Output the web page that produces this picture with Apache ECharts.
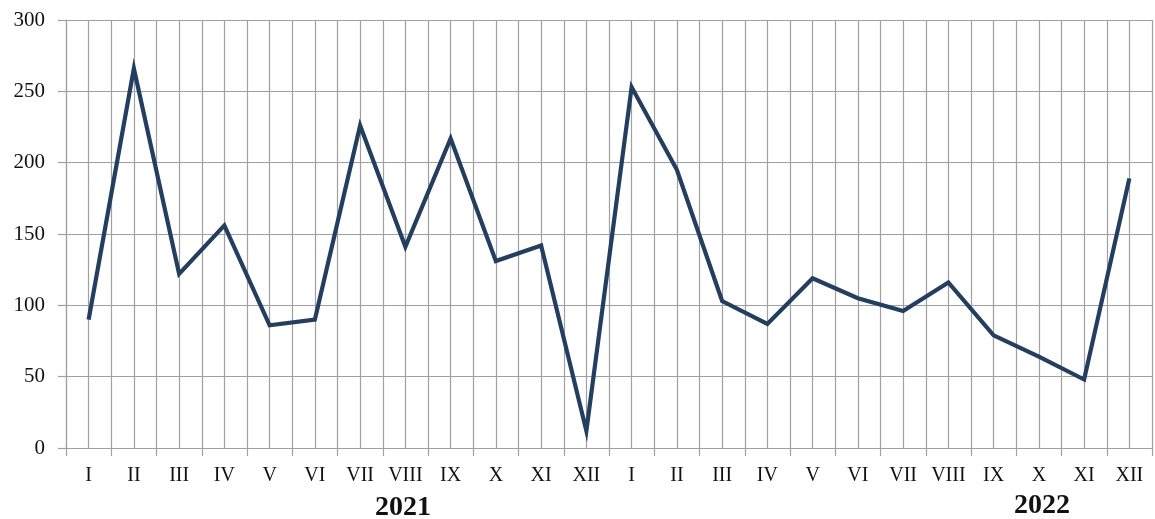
<!DOCTYPE html>
<html>
<head>
<meta charset="utf-8">
<script src="https://cdn.jsdelivr.net/npm/echarts@6/dist/echarts.min.js"></script>
<style>
  html, body { margin: 0; padding: 0; background: #fff; }
  #chart { width: 1155px; height: 519px; }
</style>
</head>
<body>
<div id="chart"></div>
<script>
// months of 2021 and 2022
var months = ['I', 'II', 'III', 'IV', 'V', 'VI', 'VII', 'VIII', 'IX', 'X', 'XI', 'XII',
              'I', 'II', 'III', 'IV', 'V', 'VI', 'VII', 'VIII', 'IX', 'X', 'XI', 'XII'];
var values = [90, 266, 122, 156, 86, 90, 226, 141, 217, 131, 142, 12,
              253, 195, 103, 87, 119, 105, 96, 116, 79, 64, 48, 189];
var years = ['2021', '2022'];
var yTicks = [0, 50, 100, 150, 200, 250, 300];

var gridColor = '#a0a0a0';
var lineColor = '#243e60';
var fontFamily = '"Liberation Serif", "Times New Roman", serif';

var chart = echarts.init(document.getElementById('chart'));

var option = {
    animation: false,
    grid: {
        left: 66,
        right: 3,
        top: 20,
        bottom: 71
    },
    xAxis: [
        {
            type: 'category',
            data: months,
            boundaryGap: true,
            axisLine: {
                show: true,
                lineStyle: { color: gridColor, width: 1.2 }
            },
            axisTick: {
                show: true,
                length: 8,
                lineStyle: { color: gridColor, width: 1.2 }
            },
            axisLabel: {
                interval: 0,
                margin: 18,
                color: '#111',
                fontSize: 20,
                fontFamily: fontFamily
            },
            splitLine: { show: false }
        },
        {
            // half-month grid lines
            type: 'value',
            min: 0,
            max: months.length * 2,
            interval: 1,
            position: 'bottom',
            axisLine: { show: false },
            axisTick: { show: false },
            axisLabel: { show: false },
            splitLine: {
                show: true,
                lineStyle: { color: gridColor, width: 1.2 }
            }
        }
    ],
    yAxis: {
        type: 'value',
        min: yTicks[0],
        max: yTicks[yTicks.length - 1],
        interval: 50,
        axisLine: {
            show: true,
            lineStyle: { color: gridColor, width: 1.2 }
        },
        axisTick: {
            show: true,
            length: 8,
            lineStyle: { color: gridColor, width: 1.2 }
        },
        axisLabel: {
            margin: 21,
            color: '#111',
            fontSize: 21,
            fontFamily: fontFamily
        },
        splitLine: {
            show: true,
            lineStyle: { color: gridColor, width: 1.2 }
        }
    },
    graphic: [
        {
            type: 'text',
            left: 405 - 30,
            top: 494,
            style: {
                text: years[0],
                font: 'bold 28px "Liberation Serif"',
                fill: '#111'
            }
        },
        {
            type: 'text',
            left: 1044 - 30,
            top: 492,
            style: {
                text: years[1],
                font: 'bold 28px "Liberation Serif"',
                fill: '#111'
            }
        }
    ],
    series: [
        {
            type: 'line',
            xAxisIndex: 0,
            data: values,
            symbol: 'none',
            lineStyle: { color: lineColor, width: 4.2, join: 'miter' },
            z: 5
        }
    ]
};

chart.setOption(option);
</script>
</body>
</html>
